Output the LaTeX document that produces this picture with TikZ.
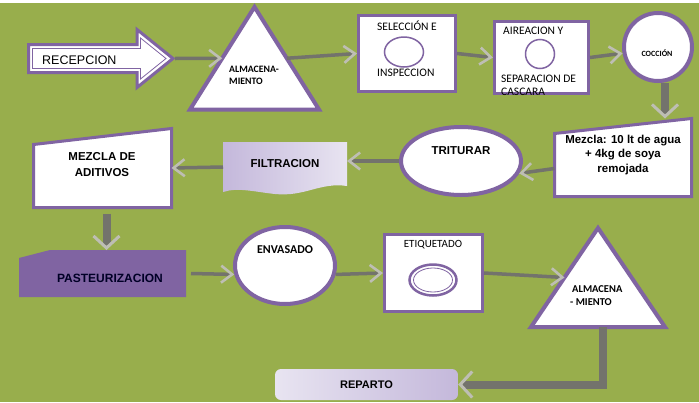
\documentclass[tikz,border=0pt]{standalone}
\usepackage{fontspec}
\setmainfont{Liberation Sans}
\newfontfamily\calibri{Carlito}
\usetikzlibrary{arrows.meta,shapes.geometric,calc}
\definecolor{bg}{RGB}{152,174,76}
\definecolor{pur}{RGB}{128,100,162}
\definecolor{shaftc}{RGB}{115,115,108}
\definecolor{tipc}{RGB}{190,190,180}
\definecolor{lavL}{RGB}{232,228,241}
\definecolor{lavD}{RGB}{196,184,219}
\tikzset{
  flow/.style={draw=shaftc, line width=3.5pt, -{Straight Barb[length=11pt,width=17pt,line width=2.6pt,color=tipc]}},
  bigflow/.style={draw=shaftc, line width=8pt, -{Straight Barb[length=12pt,width=26pt,line width=3pt,color=tipc]}},
  box/.style={draw=pur, line width=3pt, fill=white, inner sep=0pt},
  ring/.style={draw=pur, line width=4pt, fill=white, inner sep=0pt},
  frame/.style={inner sep=0pt, outer sep=0pt},
  tri/.style={draw=pur, line width=4pt, fill=white, line join=miter},
  ar/.style={font=\bfseries\fontsize{11.5}{13}\selectfont, inner sep=0pt, anchor=base},
  cal/.style={font=\calibri\fontsize{11.5}{13}\selectfont, inner sep=0pt, anchor=base west},
  calb/.style={font=\calibri\bfseries\fontsize{10.5}{12}\selectfont, inner sep=0pt, anchor=base west},
  calbs/.style={font=\calibri\bfseries\fontsize{9.8}{11}\selectfont, inner sep=0pt, anchor=base west},
}
\begin{document}
\begin{tikzpicture}[x=1pt,y=-1pt]
\useasboundingbox (0,0) rectangle (699,402);
\fill[white] (0,0) rectangle (699,3);
\fill[bg] (0,3) rectangle (699,402);

% RECEPCION block arrow
\draw[pur, line width=3pt, fill=white, line join=miter]
  (28.5,44.5) -- (137,44.5) -- (137,29.5) -- (173,58.5) -- (137,87.5) -- (137,72.5) -- (28.5,72.5) -- cycle;
\draw[pur, line width=0.8pt, line join=miter]
  (32.5,48.5) -- (140.5,48.5) -- (140.5,38) -- (166,58.5) -- (140.5,79) -- (140.5,68.5) -- (32.5,68.5) -- cycle;
\node[font=\fontsize{12.5}{14}\selectfont, inner sep=0pt, anchor=base west] (rec) at (42,64) {RECEPCION};
\coordinate (rectip) at (175,58.5);

% Triangle 1
\node[frame, minimum width=129, minimum height=102.5] (alm1) at (254.5,58.25) {};
\draw[tri] (alm1.north) -- (alm1.south east) -- (alm1.south west) -- cycle;
\node[calbs] (alm1a) at (229,72) {ALMACENA-};
\node[calbs] (alm1b) at (229,84) {MIENTO};

% Seleccion
\node[box, minimum width=97, minimum height=76] (sel) at (407,53.5) {};
\node[draw=pur, line width=1.5pt, ellipse, inner sep=0pt, minimum width=39, minimum height=30] (selc) at (404,52) {};
\node[cal] (sela) at (377,30) {SELECCIÓN E};
\node[cal] (selb) at (377,76) {INSPECCION};

% Aireacion
\node[box, minimum width=94, minimum height=72] (air) at (541.5,57.5) {};
\node[draw=pur, line width=1.5pt, circle, inner sep=0pt, minimum size=29] (airc) at (540,54) {};
\node[cal] (aira) at (503,34) {AIREACION Y};
\node[cal] (airb) at (501,82) {SEPARACION DE};
\node[cal] (airc2) at (501,95) {CASCARA};

% Coccion
\node[ring, circle, minimum size=68] (coc) at (658,47) {};
\node[font=\calibri\bfseries\fontsize{8}{9}\selectfont, inner sep=0pt, anchor=base] (coct) at (657,56) {COCCIÓN};

% Mezcla box
\node[frame, minimum width=137, minimum height=78] (mez) at (623,157.5) {};
\draw[box, line join=miter] (mez.south west) -- (mez.south east) -- (mez.north east) -- ([yshift=-15pt]mez.north west) -- cycle;
\node[ar] (meza) at (623,143) {Mezcla: 10 lt de agua};
\node[ar] (mezb) at (623,157.5) {+ 4kg de soya};
\node[ar] (mezc) at (623,172) {remojada};

% Triturar
\node[ring, ellipse, minimum width=120, minimum height=68] (trit) at (461,161) {};
\node[ar] (tritt) at (461,154) {TRITURAR};

% Filtracion
\node[frame, minimum width=124, minimum height=50] (filt) at (285,167) {};
\shade[left color=lavD, right color=lavL]
  (filt.north west) -- (filt.north east) -- ([yshift=6pt]filt.south east)
  .. controls (320,182) and (305,197) .. (275,194)
  .. controls (255,192) and (238,187) .. (filt.south west) -- cycle;
\node[ar] (filtt) at (285,167) {FILTRACION};

% Mezcla de aditivos
\node[frame, minimum width=138, minimum height=79] (mad) at (102.5,168) {};
\draw[box, line join=miter] (mad.south west) -- (mad.south east) -- (mad.north east) -- ([yshift=-16pt]mad.north west) -- cycle;
\node[ar] (mada) at (102,160) {MEZCLA DE};
\node[ar] (madb) at (102,176) {ADITIVOS};

% Pasteurizacion
\node[frame, minimum width=167, minimum height=47] (pas) at (102.5,273.5) {};
\fill[pur] (pas.south west) -- ([yshift=-8pt]pas.north west) -- ([xshift=31pt]pas.north west) -- (pas.north east) -- (pas.south east) -- cycle;
\node[ar, font=\bfseries\fontsize{12}{13}\selectfont, text=black!85!blue] (past) at (110,282) {PASTEURIZACION};

% Envasado
\node[ring, ellipse, minimum width=100, minimum height=77] (env) at (285,265.5) {};
\node[font=\calibri\bfseries\fontsize{12}{13}\selectfont, inner sep=0pt, anchor=base] (envt) at (285,253) {ENVASADO};

% Etiquetado
\node[box, minimum width=98, minimum height=77] (eti) at (433.5,273) {};
\node[font=\calibri\fontsize{11}{12}\selectfont, inner sep=0pt, anchor=base] (etit) at (433,247) {ETIQUETADO};
\node[draw=pur, line width=2.5pt, ellipse, inner sep=0pt, minimum width=47, minimum height=31] (etio) at (433,280) {};
\node[draw=pur, line width=0.8pt, ellipse, inner sep=0pt, minimum width=39, minimum height=24] (etii) at (433,280) {};

% Triangle 2
\node[frame, minimum width=134, minimum height=99] (alm2) at (598,277.5) {};
\draw[tri] (alm2.north) -- (alm2.south east) -- (alm2.south west) -- cycle;
\node[calb] (alm2a) at (572,292) {ALMACENA};
\node[calb] (alm2b) at (570,305) {- MIENTO};

% Reparto
\node[rounded corners=6pt, left color=lavL, right color=lavD, minimum width=183, minimum height=31, inner sep=0pt,
      font=\bfseries\fontsize{11}{12}\selectfont] (rep) at (366.5,384.5) {REPARTO};

% Connectors
\draw[flow] (rectip) -- ($(alm1.north)!0.5!(alm1.south west)$);
\draw[flow] ($(alm1.north)!0.5!(alm1.south east)$) -- (sel.west);
\draw[flow] (sel.east) -- (air.west);
\draw[flow] (air.east) -- (coc.190);
\draw[bigflow] ([xshift=7pt]coc.south) -- ([xshift=7pt]coc.south |- mez.north);
\draw[flow] ([yshift=-11pt]mez.west) -- (trit.-12);
\draw[flow] (trit.west) -- (trit.west -| filt.east);
\draw[flow] (filt.west) -- (mad.east);
\draw[bigflow] ([shift={(4pt,-6pt)}]mad.south) -- ([xshift=4pt]mad.south |- pas.north);
\draw[flow] ([xshift=5pt]pas.east) -- (env.190);
\draw[flow] (env.-10) -- (eti.west);
\draw[flow] (eti.east) -- ($(alm2.north)!0.5!(alm2.south west)$);
\draw[bigflow] ([xshift=5pt]alm2.south) |- (rep.east);
\end{tikzpicture}
\end{document}
